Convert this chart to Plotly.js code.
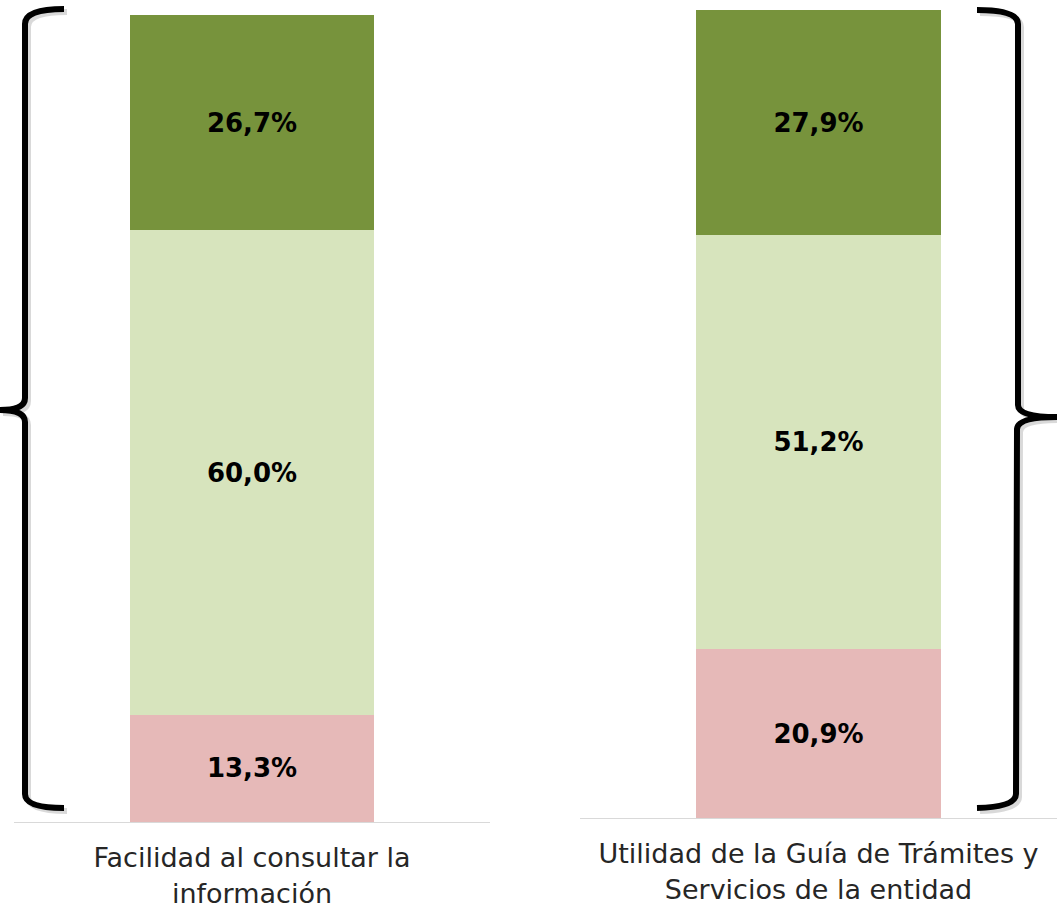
<!DOCTYPE html>
<html>
<head>
<meta charset="utf-8">
<script src="https://cdn.plot.ly/plotly-3.0.1.min.js"></script>
<style>html,body{margin:0;padding:0;background:#fff}#chart{width:1057px;height:909px}</style>
</head>
<body>
<div id="chart"></div>
<script>
const categoriesLeft = ["Facilidad al consultar la<br>información"];
const categoriesRight = ["Utilidad de la Guía de Trámites y<br>Servicios de la entidad"];
const seriesNames = ["Bajo", "Medio", "Alto"];
const leftValues = [13.3, 60.0, 26.7];
const rightValues = [20.9, 51.2, 27.9];
const seriesColors = ["#E6B9B8", "#D7E4BD", "#77933C"];

const W = 1057, H = 909;
const px = x => x / W;
const py = y => 1 - y / H;

const labelFont = {family: 'DejaVu Sans', size: 26, color: '#000', weight: 'bold'};
const traces = [];
seriesNames.forEach((name, i) => {
  traces.push({
    type: 'bar', x: [0], y: [leftValues[i]], name: name,
    xaxis: 'x', yaxis: 'y', width: 0.513,
    marker: {color: seriesColors[i], line: {width: 0}},
    texttemplate: '%{y:.1f}%', textposition: 'inside', insidetextanchor: 'middle',
    textangle: 0, textfont: labelFont,
    hoverinfo: 'skip', showlegend: false
  });
  traces.push({
    type: 'bar', x: [0], y: [rightValues[i]], name: name,
    xaxis: 'x2', yaxis: 'y2', width: 0.512,
    marker: {color: seriesColors[i], line: {width: 0}},
    texttemplate: '%{y:.1f}%', textposition: 'inside', insidetextanchor: 'middle',
    textangle: 0, textfont: labelFont,
    hoverinfo: 'skip', showlegend: false
  });
});

function P(x, y) { return px(x).toFixed(5) + ',' + py(y).toFixed(5); }

function leftB(dx, dy) {
  return 'M' + P(64 + dx, 9 + dy) + ' Q' + P(25 + dx, 9 + dy) + ' ' + P(25 + dx, 24 + dy) +
    ' L' + P(25 + dx, 398 + dy) + ' Q' + P(25 + dx, 410 + dy) + ' ' + P(0 + dx, 410 + dy) +
    ' Q' + P(25 + dx, 410 + dy) + ' ' + P(25 + dx, 422 + dy) +
    ' L' + P(25 + dx, 794 + dy) + ' Q' + P(25 + dx, 808 + dy) + ' ' + P(64 + dx, 808 + dy);
}
function rightB(dx, dy) {
  return 'M' + P(977 + dx, 10 + dy) + ' Q' + P(1018 + dx, 10 + dy) + ' ' + P(1018 + dx, 24 + dy) +
    ' L' + P(1018 + dx, 405 + dy) + ' Q' + P(1018 + dx, 417 + dy) + ' ' + P(1057 + dx, 417 + dy) +
    ' Q' + P(1018 + dx, 417 + dy) + ' ' + P(1017 + dx, 429 + dy) +
    ' L' + P(1016 + dx, 794 + dy) + ' Q' + P(1016 + dx, 807 + dy) + ' ' + P(977 + dx, 808 + dy);
}

const tickFont = {family: 'DejaVu Sans', size: 27, color: '#262626'};
const layout = {
  width: W, height: H,
  margin: {l: 0, r: 0, t: 0, b: 0, pad: 0},
  paper_bgcolor: '#fff', plot_bgcolor: 'rgba(0,0,0,0)',
  barmode: 'stack', bargap: 0,
  separators: ',.',
  showlegend: false, hovermode: false,
  xaxis: {domain: [px(14), px(490)], range: [-0.5, 0.5], tickvals: [0], ticktext: categoriesLeft,
    showline: true, linecolor: '#D9D9D9', linewidth: 1, ticks: '', showgrid: false, zeroline: false,
    tickfont: tickFont, ticklabelstandoff: 12, anchor: 'y', fixedrange: true},
  yaxis: {domain: [py(822), py(15)], range: [0, 100], visible: false, anchor: 'x', fixedrange: true},
  xaxis2: {domain: [px(580), 1], range: [-0.5, 0.5], tickvals: [0], ticktext: categoriesRight,
    showline: true, linecolor: '#D9D9D9', linewidth: 1, ticks: '', showgrid: false, zeroline: false,
    tickfont: tickFont, ticklabelstandoff: 12, anchor: 'y2', fixedrange: true},
  yaxis2: {domain: [py(818), py(10)], range: [0, 100], visible: false, anchor: 'x2', fixedrange: true},
  shapes: [
    {type: 'path', xref: 'paper', yref: 'paper', path: leftB(3, 3), line: {color: 'rgba(0,0,0,0.15)', width: 6}},
    {type: 'path', xref: 'paper', yref: 'paper', path: rightB(3, 3), line: {color: 'rgba(0,0,0,0.15)', width: 6}},
    {type: 'path', xref: 'paper', yref: 'paper', path: leftB(0, 0), line: {color: '#000', width: 6}},
    {type: 'path', xref: 'paper', yref: 'paper', path: rightB(0, 0), line: {color: '#000', width: 6}}
  ]
};

Plotly.newPlot('chart', traces, layout, {displayModeBar: false, staticPlot: true});
</script>
</body>
</html>
